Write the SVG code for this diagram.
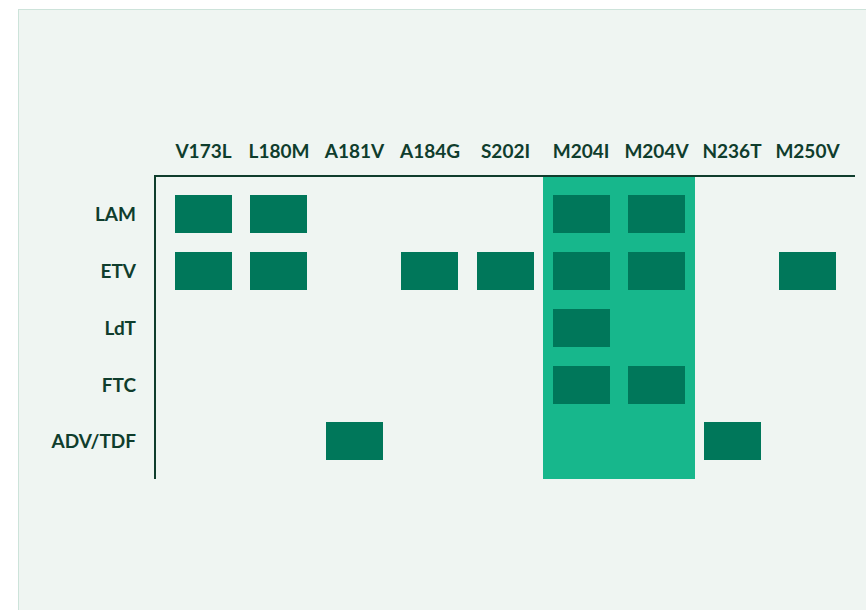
<svg xmlns="http://www.w3.org/2000/svg" width="866" height="610" viewBox="0 0 866 610">
<style>
.lbl{font-family:Lato,"Liberation Sans",sans-serif;font-weight:700;font-size:19px;fill:#0f3d2d}
.col{text-anchor:middle}
.row{text-anchor:end}
.cell{fill:#00775a}
.axis{stroke:#0f3d2d;stroke-width:2;fill:none}
</style>
<rect x="0" y="0" width="866" height="610" fill="#ffffff"/>
<rect x="18.5" y="9.5" width="870" height="620" fill="#eff5f2" stroke="#cde3da" stroke-width="1"/>
<rect id="highlight" x="543" y="176" width="152" height="303" fill="#17b78c"/>
<g id="column-labels">
<text class="lbl col" x="203.5" y="158">V173L</text>
<text class="lbl col" x="279" y="158">L180M</text>
<text class="lbl col" x="354.5" y="158">A181V</text>
<text class="lbl col" x="430" y="158">A184G</text>
<text class="lbl col" x="505.5" y="158">S202I</text>
<text class="lbl col" x="581" y="158">M204I</text>
<text class="lbl col" x="656.5" y="158">M204V</text>
<text class="lbl col" x="732" y="158">N236T</text>
<text class="lbl col" x="807.5" y="158">M250V</text>
</g>
<g id="row-labels">
<text class="lbl row" x="136" y="221">LAM</text>
<text class="lbl row" x="136" y="278">ETV</text>
<text class="lbl row" x="136" y="335">LdT</text>
<text class="lbl row" x="136" y="392">FTC</text>
<text class="lbl row" x="136" y="448">ADV/TDF</text>
</g>
<g id="axes">
<path class="axis" d="M155 479 V176 H855"/>
</g>
<g id="cells">
<rect class="cell" x="175" y="195" width="57" height="38"/>
<rect class="cell" x="250" y="195" width="57" height="38"/>
<rect class="cell" x="553" y="195" width="57" height="38"/>
<rect class="cell" x="628" y="195" width="57" height="38"/>
<rect class="cell" x="175" y="252" width="57" height="38"/>
<rect class="cell" x="250" y="252" width="57" height="38"/>
<rect class="cell" x="401" y="252" width="57" height="38"/>
<rect class="cell" x="477" y="252" width="57" height="38"/>
<rect class="cell" x="553" y="252" width="57" height="38"/>
<rect class="cell" x="628" y="252" width="57" height="38"/>
<rect class="cell" x="779" y="252" width="57" height="38"/>
<rect class="cell" x="553" y="309" width="57" height="38"/>
<rect class="cell" x="553" y="366" width="57" height="38"/>
<rect class="cell" x="628" y="366" width="57" height="38"/>
<rect class="cell" x="326" y="422" width="57" height="38"/>
<rect class="cell" x="704" y="422" width="57" height="38"/>
</g>
</svg>
